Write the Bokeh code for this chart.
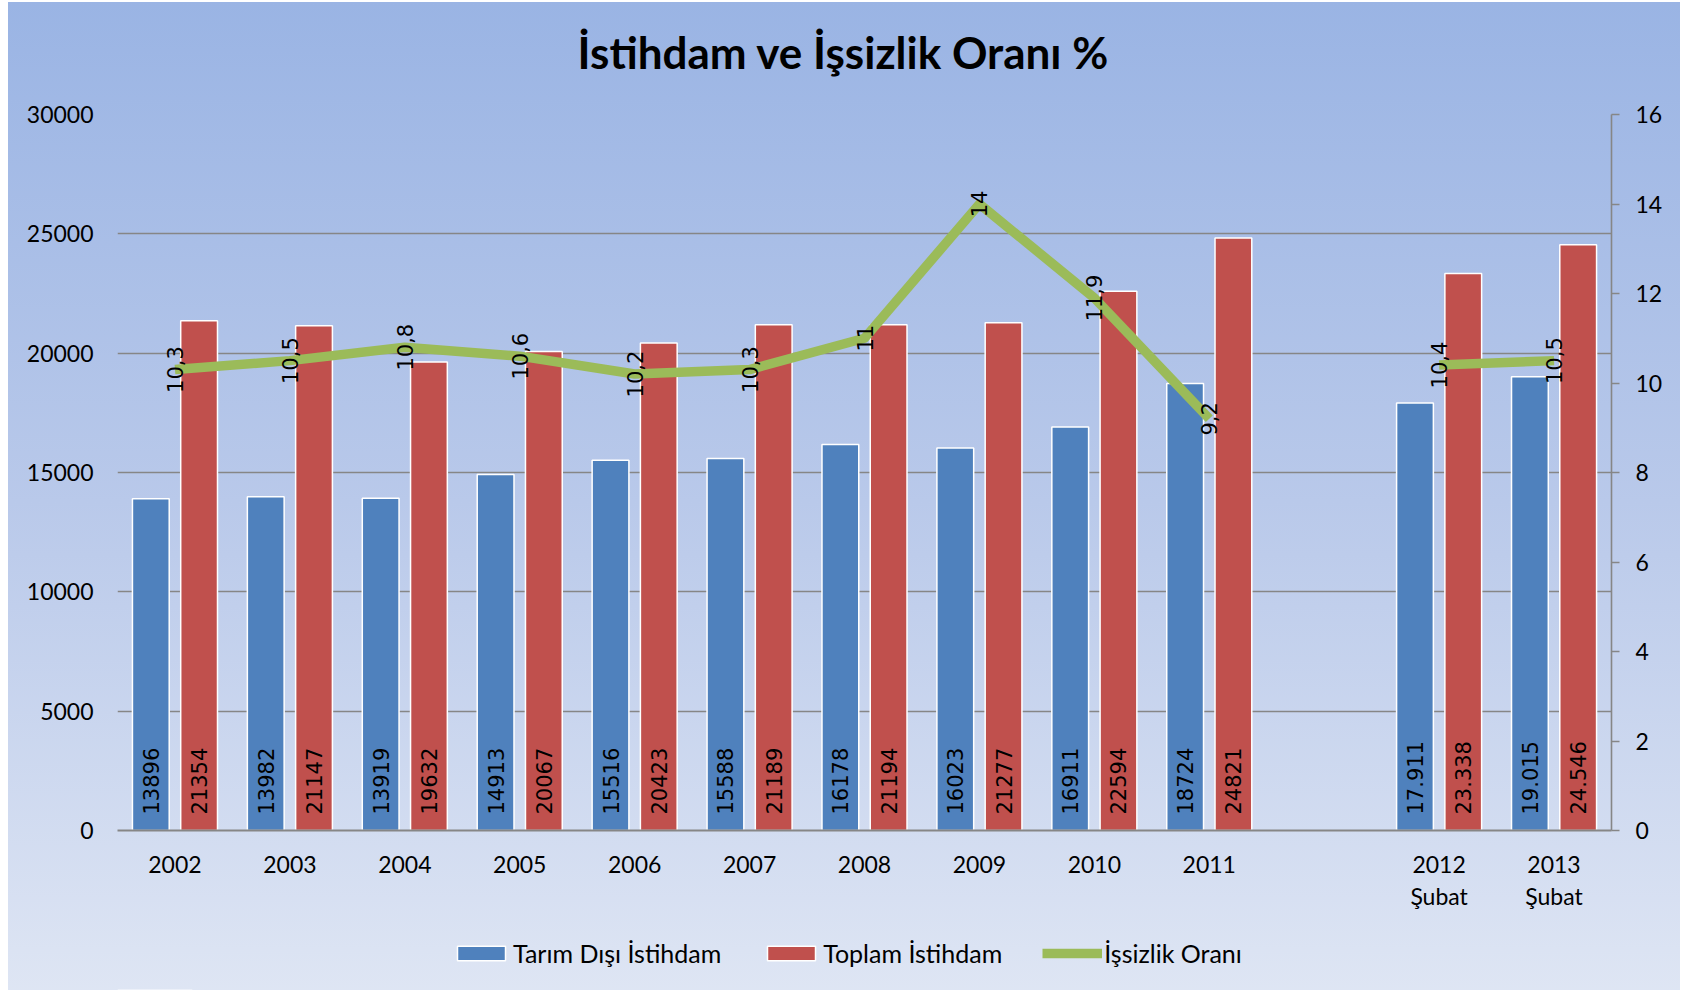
import math
from bokeh.plotting import figure
from bokeh.layouts import column
from bokeh.models import (FactorRange, Range1d, LinearAxis, CategoricalAxis, SingleIntervalTicker,
                          ColumnDataSource, Legend, LegendItem, CustomJSTickFormatter, Label)
from bokeh.transform import dodge
from bokeh.core.properties import value
from bokeh.embed import file_html
from bokeh.resources import INLINE

title = "İstihdam ve İşsizlik Oranı %"

# categories (a blank slot separates 2011 from the February figures)
years = ["2002", "2003", "2004", "2005", "2006", "2007", "2008", "2009", "2010", "2011",
         "2012 Şubat", "2013 Şubat"]
gap_after = "2011"
gap_factor = " "
tick_keys = ["2012 Şubat", "2013 Şubat", " "]
tick_line1 = ["2012", "2013", ""]
tick_line2 = ["Şubat", "Şubat", ""]

tarim_disi = [13896, 13982, 13919, 14913, 15516, 15588, 16178, 16023, 16911, 18724, 17911, 19015]
toplam = [21354, 21147, 19632, 20067, 20423, 21189, 21194, 21277, 22594, 24821, 23338, 24546]
issizlik = [10.3, 10.5, 10.8, 10.6, 10.2, 10.3, 11, 14, 11.9, 9.2, 10.4, 10.5]

tarim_labels = ["13896", "13982", "13919", "14913", "15516", "15588", "16178", "16023",
                "16911", "18724", "17.911", "19.015"]
toplam_labels = ["21354", "21147", "19632", "20067", "20423", "21189", "21194", "21277",
                 "22594", "24821", "23.338", "24.546"]
issizlik_labels = ["10,3", "10,5", "10,8", "10,6", "10,2", "10,3", "11", "14", "11,9", "9,2",
                   "10,4", "10,5"]

series_names = ["Tarım Dışı İstihdam", "Toplam İstihdam", "İşsizlik Oranı"]
left_ticks_interval = 5000
right_ticks_interval = 2

BLUE, RED, GREEN = "#4F81BD", "#C0504D", "#9BBB59"
FONT = "Lato"
GRID = "#868686"
W, H_TITLE, H_MAIN, H_LEG = 1680, 94, 841, 55
FRAME_L, FRAME_R, FRAME_T, FRAME_B = 117, 1611, 114, 830

# ---- build factors ----
idx = years.index(gap_after) + 1
factors = years[:idx] + [gap_factor] + years[idx:]

line_x = factors
line_y = issizlik[:idx] + [float("nan")] + issizlik[idx:]

bar_src = ColumnDataSource(dict(x=years, tarim=tarim_disi, toplam=toplam,
                                tl=tarim_labels, pl=toplam_labels,
                                rate=issizlik, rl=issizlik_labels))
line_src = ColumnDataSource(dict(x=line_x, y=line_y))


def strip(height, y_range):
    f = figure(width=W, height=height, x_range=Range1d(0, 1), y_range=y_range,
               output_backend="svg", toolbar_location=None, title=None,
               x_axis_type=None, y_axis_type=None,
               min_border_left=0, min_border_right=0, min_border_top=0, min_border_bottom=0)
    f.border_fill_color = None
    f.background_fill_color = None
    f.outline_line_color = None
    f.xgrid.visible = False
    f.ygrid.visible = False
    return f


# ---- title strip ----
tf = strip(H_TITLE, Range1d(0, 1))
tf.add_layout(Label(x=843 - FRAME_L, y=43, x_units="screen", y_units="screen", text=title,
                    text_align="center", text_baseline="alphabetic",
                    text_font=FONT, text_font_style="bold", text_font_size="44px",
                    text_color="black"))

# ---- main chart ----
p = figure(width=W, height=H_MAIN, x_range=FactorRange(*factors), y_range=Range1d(0, 30000),
           output_backend="svg", toolbar_location=None, title=None,
           min_border_left=FRAME_L, min_border_right=W - FRAME_R,
           min_border_top=FRAME_T - H_TITLE,
           min_border_bottom=H_TITLE + H_MAIN - FRAME_B)
p.extra_y_ranges = {"rate": Range1d(0, 16)}
p.border_fill_color = None
p.background_fill_color = None
p.outline_line_color = None

# left axis
yl = p.yaxis[0]
yl.ticker = SingleIntervalTicker(interval=left_ticks_interval, num_minor_ticks=0)
yl.axis_line_color = None
yl.major_tick_line_color = None
yl.minor_tick_line_color = None
yl.major_label_standoff = 18
yl.major_label_text_font = FONT
yl.major_label_text_font_size = "23px"
yl.major_label_text_color = "black"

p.ygrid.ticker = yl.ticker
p.ygrid.grid_line_color = GRID
p.ygrid.grid_line_width = 1.6
p.xgrid.grid_line_color = None

fmt_code = "const i = keys.indexOf(tick); return i >= 0 ? vals[i] : tick;"
fmt_code2 = "const i = keys.indexOf(tick); return i >= 0 ? vals[i] : '';"

# x axis (first line of labels)
xa = p.xaxis[0]
xa.formatter = CustomJSTickFormatter(args=dict(keys=tick_keys, vals=tick_line1), code=fmt_code)
xa.axis_line_color = GRID
xa.axis_line_width = 2
xa.major_tick_line_color = None
xa.minor_tick_line_color = None
xa.major_label_standoff = 19
xa.major_label_text_font = FONT
xa.major_label_text_font_size = "23px"
xa.major_label_text_color = "black"

# second line of x labels ("Şubat")
xb = CategoricalAxis(formatter=CustomJSTickFormatter(args=dict(keys=tick_keys, vals=tick_line2),
                                                     code=fmt_code2))
xb.axis_line_color = None
xb.major_tick_line_color = None
xb.minor_tick_line_color = None
xb.major_label_standoff = 0
xb.major_label_text_font = FONT
xb.major_label_text_font_size = "23px"
xb.major_label_text_color = "black"
p.add_layout(xb, "below")

# right axis
yr = LinearAxis(y_range_name="rate",
                ticker=SingleIntervalTicker(interval=right_ticks_interval, num_minor_ticks=0))
yr.axis_line_color = GRID
yr.axis_line_width = 1.6
yr.major_tick_line_color = GRID
yr.major_tick_line_width = 1.6
yr.major_tick_in = 0
yr.major_tick_out = 8
yr.minor_tick_line_color = None
yr.major_label_standoff = 16
yr.major_label_text_font = FONT
yr.major_label_text_font_size = "23px"
yr.major_label_text_color = "black"
p.add_layout(yr, "right")

# bars
bar_kw = dict(width=0.32, source=bar_src, line_color="white", line_width=1.5)
p.vbar(x=dodge("x", -0.21, range=p.x_range), top="tarim", fill_color=BLUE, **bar_kw)
p.vbar(x=dodge("x", 0.21, range=p.x_range), top="toplam", fill_color=RED, **bar_kw)

# line
line_kw = dict(line_color=GREEN, line_width=9.5, line_join="round", line_cap="butt")
p.line(x="x", y="y", source=line_src, y_range_name="rate", **line_kw)

# bar value labels
lab_kw = dict(angle=math.pi / 2, text_font=value("DejaVu Sans"), text_font_size="21px",
              text_color="black")
p.text(x=dodge("x", -0.21, range=p.x_range), y=0, text="tl", source=bar_src,
       text_align="left", text_baseline="middle", y_offset=-16, **lab_kw)
p.text(x=dodge("x", 0.21, range=p.x_range), y=0, text="pl", source=bar_src,
       text_align="left", text_baseline="middle", y_offset=-16, **lab_kw)
# rate labels
p.text(x="x", y="rate", text="rl", source=bar_src, y_range_name="rate",
       text_align="center", text_baseline="middle", **lab_kw)

# ---- legend strip (renderers styled like the series, drawn outside the visible range) ----
lf = strip(H_LEG, Range1d(1, 2))
swatch = ColumnDataSource(dict(x=[0], top=[0], y=[0]))
lb = lf.vbar(x="x", top="top", width=0.1, source=swatch, fill_color=BLUE,
             line_color="white", line_width=1.5)
lr = lf.vbar(x="x", top="top", width=0.1, source=swatch, fill_color=RED,
             line_color="white", line_width=1.5)
ll = lf.line(x="x", y="y", source=swatch, **line_kw)

legend = Legend(items=[LegendItem(label=series_names[0], renderers=[lb]),
                       LegendItem(label=series_names[1], renderers=[lr]),
                       LegendItem(label=series_names[2], renderers=[ll])],
                orientation="horizontal", location=(334, 22),
                background_fill_alpha=0, border_line_alpha=0,
                glyph_width=60, glyph_height=18, label_standoff=2, spacing=40,
                padding=0, margin=0,
                label_text_font=FONT, label_text_font_size="25px", label_text_color="black")
lf.add_layout(legend)

layout = column(tf, p, lf, spacing=0, styles={
    "background-color": "white",
    "background-image": "linear-gradient(180deg, #9ab4e4 0%, #b9c9ea 50%, #dfe6f4 100%)",
    "background-position": "8px 2px",
    "background-size": "1680px 1000px",
    "background-repeat": "no-repeat",
})

open("out.html", "w").write(file_html(layout, INLINE))
